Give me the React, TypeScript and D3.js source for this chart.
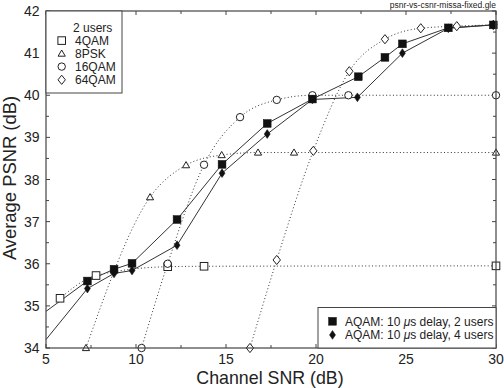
import React from "react";
import * as d3 from "d3";

// Channel SNR (dB) / average PSNR (dB) per scheme
const qam4Snr = [5.78, 7.78, 11.76, 13.78, 30];
const qam4Psnr = [35.18, 35.72, 35.93, 35.94, 35.95];

const psk8Snr = [7.22, 10.78, 12.78, 14.76, 16.78, 18.78, 30];
const psk8Psnr = [34.0, 37.58, 38.34, 38.58, 38.64, 38.64, 38.64];

const qam16Snr = [10.31, 11.76, 13.78, 15.78, 17.82, 19.8, 21.8, 30];
const qam16Psnr = [34.0, 36.0, 38.35, 39.48, 39.89, 40.0, 40.0, 40.0];

const qam64Snr = [16.33, 17.82, 19.85, 21.85, 23.83, 25.82, 27.82, 29.85];
const qam64Psnr = [34.0, 36.09, 38.68, 40.57, 41.33, 41.59, 41.64, 41.67];

const aqam2Snr = [5, 7.3, 8.78, 9.78, 12.28, 14.78, 17.29, 19.8, 22.35, 23.83, 24.8, 27.35, 29.85];
const aqam2Psnr = [34.87, 35.59, 35.87, 36.01, 37.05, 38.36, 39.33, 39.91, 40.44, 40.9, 41.22, 41.6, 41.67];

const aqam4Snr = [5, 7.3, 8.78, 9.78, 12.28, 14.78, 17.29, 19.8, 22.3, 24.8, 27.35, 29.85];
const aqam4Psnr = [34.2, 35.41, 35.77, 35.84, 36.44, 38.15, 39.08, 39.9, 39.95, 41.0, 41.59, 41.67];

const xTicks = [5, 10, 15, 20, 25, 30];
const yTicks = [34, 35, 36, 37, 38, 39, 40, 41, 42];

const legendTitle = "2 users";
const legendSchemes = ["4QAM", "8PSK", "16QAM", "64QAM"];
const legendAqam = ["2 users", "4 users"];

const W = 504;
const H = 388;
const left = 46;
const right = 496;
const top = 11;
const bottom = 348;

const x = d3.scaleLinear().domain([5, 30]).range([left, right]);
const y = d3.scaleLinear().domain([34, 42]).range([bottom, top]);

const ink = "#222";
const frame = "#444";
const font = "'Liberation Sans', Arial, Helvetica, sans-serif";

type Kind = "sq" | "tri" | "circ" | "dia" | "fsq" | "fdia";

function Marker({ kind, cx, cy }: { kind: Kind; cx: number; cy: number }) {
  const sw = 1;
  switch (kind) {
    case "sq":
      return <rect x={cx - 3.8} y={cy - 3.8} width={7.6} height={7.6} fill="#fff" stroke={ink} strokeWidth={sw} />;
    case "fsq":
      return <rect x={cx - 3.9} y={cy - 3.9} width={7.8} height={7.8} fill="#111" stroke="#111" strokeWidth={0.5} />;
    case "tri":
      return (
        <path
          d={`M${cx},${cy - 3.6}L${cx + 3.6},${cy + 2.6}L${cx - 3.6},${cy + 2.6}Z`}
          fill="#fff"
          stroke={ink}
          strokeWidth={sw}
        />
      );
    case "circ":
      return <circle cx={cx} cy={cy} r={3.7} fill="#fff" stroke={ink} strokeWidth={sw} />;
    case "dia":
      return (
        <path
          d={`M${cx},${cy - 4.6}L${cx + 3.7},${cy}L${cx},${cy + 4.6}L${cx - 3.7},${cy}Z`}
          fill="#fff"
          stroke={ink}
          strokeWidth={sw}
        />
      );
    case "fdia":
      return (
        <path
          d={`M${cx},${cy - 4.4}L${cx + 3},${cy}L${cx},${cy + 4.4}L${cx - 3},${cy}Z`}
          fill="#111"
          stroke="#111"
          strokeWidth={0.5}
        />
      );
  }
  return null;
}

type Series = { xs: number[]; ys: number[]; kind: Kind; dotted: boolean };

const hollow: Series[] = [
  { xs: qam4Snr, ys: qam4Psnr, kind: "sq", dotted: true },
  { xs: psk8Snr, ys: psk8Psnr, kind: "tri", dotted: true },
  { xs: qam16Snr, ys: qam16Psnr, kind: "circ", dotted: true },
  { xs: qam64Snr, ys: qam64Psnr, kind: "dia", dotted: true },
];

const filled: Series[] = [
  { xs: aqam2Snr, ys: aqam2Psnr, kind: "fsq", dotted: false },
  { xs: aqam4Snr, ys: aqam4Psnr, kind: "fdia", dotted: false },
];

const smooth = d3
  .line<[number, number]>()
  .x((d) => x(d[0]))
  .y((d) => y(d[1]))
  .curve(d3.curveMonotoneX);

const straight = d3
  .line<[number, number]>()
  .x((d) => x(d[0]))
  .y((d) => y(d[1]));

function SeriesLine({ s }: { s: Series }) {
  const pts = s.xs.map((v, i) => [v, s.ys[i]] as [number, number]);
  return s.dotted ? (
    <path d={smooth(pts) || ""} fill="none" stroke="#333" strokeWidth={1} strokeDasharray="1 2.4" />
  ) : (
    <path d={straight(pts) || ""} fill="none" stroke="#333" strokeWidth={1} />
  );
}

function SeriesMarks({ s }: { s: Series }) {
  return (
    <g>
      {s.xs.map((v, i) =>
        v > 5 ? <Marker key={i} kind={s.kind} cx={x(v)} cy={y(s.ys[i])} /> : null
      )}
    </g>
  );
}

export default function App() {
  const xMinor = d3.range(5, 30.01, 2.5);
  const yMinor = d3.range(34, 42.01, 0.5);
  const legendKinds: Kind[] = ["sq", "tri", "circ", "dia"];
  const legendRowY = [40.6, 53.6, 66.6, 79.8];
  return (
    <svg width={W} height={H} style={{ position: "absolute", left: 0, top: 0, background: "#fff" }}>
      <rect x={0} y={0} width={W} height={H} fill="#fff" />

      {/* ticks on all four sides, pointing inward */}
      <g stroke={frame} strokeWidth={1}>
        {xMinor.map((t) => {
          const major = t % 5 === 0;
          const len = major ? 4 : 3;
          return (
            <g key={`x${t}`}>
              <line x1={x(t)} x2={x(t)} y1={bottom} y2={bottom - len} />
              <line x1={x(t)} x2={x(t)} y1={top} y2={top + len} />
            </g>
          );
        })}
        {yMinor.map((t) => {
          const major = Number.isInteger(t);
          const len = major ? 4 : 3;
          return (
            <g key={`y${t}`}>
              <line x1={left} x2={left + len} y1={y(t)} y2={y(t)} />
              <line x1={right} x2={right - len} y1={y(t)} y2={y(t)} />
            </g>
          );
        })}
      </g>

      {hollow.map((s, i) => (
        <SeriesLine key={`hl${i}`} s={s} />
      ))}
      {filled.map((s, i) => (
        <SeriesLine key={`fl${i}`} s={s} />
      ))}
      {hollow.map((s, i) => (
        <SeriesMarks key={`hm${i}`} s={s} />
      ))}
      {filled.map((s, i) => (
        <SeriesMarks key={`fm${i}`} s={s} />
      ))}

      {/* frame */}
      <rect x={left} y={top} width={right - left} height={bottom - top} fill="none" stroke={frame} strokeWidth={1.2} />

      {/* tick labels */}
      <g fontFamily={font} fontSize={14} fill={ink}>
        {xTicks.map((t) => (
          <text key={`xl${t}`} x={x(t)} y={364} textAnchor="middle">
            {t}
          </text>
        ))}
        {yTicks.map((t) => (
          <text key={`yl${t}`} x={39.5} y={y(t) + 5} textAnchor="end">
            {t}
          </text>
        ))}
      </g>

      {/* axis titles */}
      <text x={270} y={383.5} textAnchor="middle" fontFamily={font} fontSize={17.8} fill={ink}>
        Channel SNR (dB)
      </text>
      <text
        transform={`translate(15.5,${178}) rotate(-90)`}
        textAnchor="middle"
        fontFamily={font}
        fontSize={18.4}
        fill={ink}
      >
        Average PSNR (dB)
      </text>

      <text x={496} y={8} textAnchor="end" fontFamily={font} fontSize={8.5} fill={ink}>
        psnr-vs-csnr-missa-fixed.gle
      </text>

      {/* scheme legend */}
      <rect x={left} y={top} width={76} height={82} fill="#fff" stroke={frame} strokeWidth={1} />
      <g fontFamily={font} fontSize={12} fill={ink}>
        <text x={73} y={32}>
          {legendTitle}
        </text>
        {legendSchemes.map((name, i) => (
          <g key={name}>
            <Marker kind={legendKinds[i]} cx={61.7} cy={legendRowY[i]} />
            <text x={75} y={legendRowY[i] + 4.3}>
              {name}
            </text>
          </g>
        ))}
      </g>

      {/* AQAM legend */}
      <rect x={318} y={307.5} width={right - 318} height={bottom - 307.5} fill="#fff" stroke={frame} strokeWidth={1} />
      <g fontFamily={font} fontSize={12} fill={ink}>
        {legendAqam.map((users, i) => {
          const cy = 321.3 + i * 13.6;
          return (
            <g key={users}>
              <Marker kind={i === 0 ? "fsq" : "fdia"} cx={332.5} cy={cy} />
              <text x={345} y={cy + 4.3}>
                AQAM: 10 <tspan fontStyle="italic">μ</tspan>s delay, {users}
              </text>
            </g>
          );
        })}
      </g>
    </svg>
  );
}
